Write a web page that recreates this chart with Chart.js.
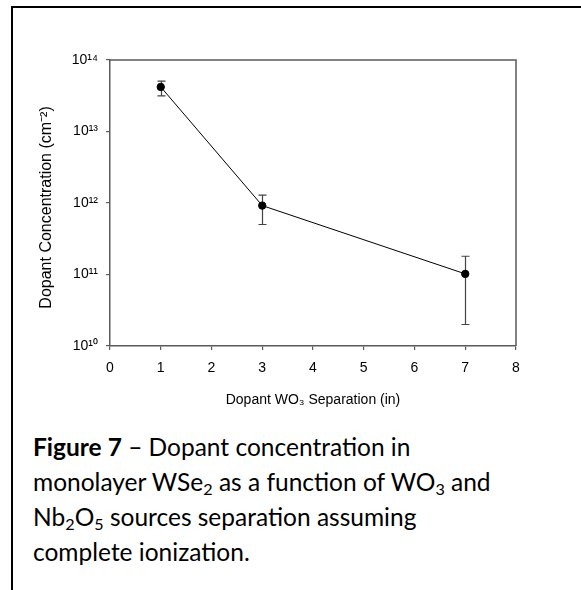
<!DOCTYPE html>
<html>
<head>
<meta charset="utf-8">
<script src="https://cdn.jsdelivr.net/npm/chart.js@4/dist/chart.umd.min.js"></script>
<style>
  html, body { margin: 0; padding: 0; background: #fff; }
  #wrap { position: relative; width: 581px; height: 590px; overflow: hidden; background: #fff; }
  #frame { position: absolute; left: 11px; top: 6px; width: 700px; height: 700px;
           border-left: 2px solid #000; border-top: 2px solid #000; }
  #chartBox { position: absolute; left: 0; top: 0; width: 581px; height: 420px; }
  #caption { position: absolute; left: 33px; top: 429px; width: 545px; white-space: nowrap;
             font-family: Lato, "Open Sans", sans-serif; font-size: 24.5px; line-height: 35px; color: #000; }
  #caption sub { font-size: 0.66em; vertical-align: -0.25em; line-height: 0; }
</style>
</head>
<body>
<div id="wrap">
  <div id="frame"></div>
  <div id="chartBox"><canvas id="c" width="581" height="420"></canvas></div>
  <div id="caption"><b>Figure 7</b> – Dopant concentration in<br>monolayer WSe<sub>2</sub> as a function of WO<sub>3</sub> and<br>Nb<sub>2</sub>O<sub>5</sub> sources separation assuming<br>complete ionization.</div>
</div>
<script>
// ---- data ----
const separations = [1, 3, 7];                       // in
const concentration = [4.2e13, 9.2e11, 1.02e11];      // cm^-2
const errUpper = [5.05e13, 1.29e12, 1.8e11];
const errLower = [3.15e13, 5.0e11, 2.0e10];
const xTickValues = [0, 1, 2, 3, 4, 5, 6, 7, 8];
const yTickValues = [1e10, 1e11, 1e12, 1e13, 1e14];
const yTickLabels = ['10¹⁰', '10¹¹', '10¹²', '10¹³', '10¹⁴'];
const xTitle = 'Dopant WO₃ Separation (in)';
const yTitle = 'Dopant Concentration (cm⁻²)  ';

const axisColor = '#5a5a5a';
const font = "'Liberation Sans', Arial, sans-serif";

const framePlugin = {
  id: 'framePlugin',
  afterDatasetsDraw(chart) {
    const {ctx, chartArea: a} = chart;
    ctx.save();
    ctx.strokeStyle = axisColor;
    ctx.lineWidth = 1.5;
    ctx.beginPath();
    ctx.moveTo(a.left, a.top);
    ctx.lineTo(a.right, a.top);
    ctx.lineTo(a.right, a.bottom);
    ctx.stroke();
    ctx.restore();
  }
};

const errorBarPlugin = {
  id: 'errorBarPlugin',
  beforeDatasetsDraw(chart) {
    const {ctx, scales: {x, y}} = chart;
    ctx.save();
    ctx.strokeStyle = '#444';
    ctx.lineWidth = 1.2;
    separations.forEach((sx, i) => {
      const px = Math.round(x.getPixelForValue(sx)) + 0.5;
      const pt = y.getPixelForValue(errUpper[i]);
      const pb = y.getPixelForValue(errLower[i]);
      ctx.beginPath();
      ctx.moveTo(px, pt); ctx.lineTo(px, pb);
      ctx.moveTo(px - 4, pt); ctx.lineTo(px + 4, pt);
      ctx.moveTo(px - 4, pb); ctx.lineTo(px + 4, pb);
      ctx.stroke();
    });
    ctx.restore();
  }
};

new Chart(document.getElementById('c'), {
  type: 'scatter',
  data: {
    datasets: [{
      data: separations.map((s, i) => ({x: s, y: concentration[i]})),
      showLine: true,
      borderColor: '#000',
      borderWidth: 1,
      backgroundColor: '#000',
      pointRadius: 3.7,
      pointHoverRadius: 3.7,
      tension: 0
    }]
  },
  plugins: [errorBarPlugin, framePlugin],
  options: {
    responsive: false,
    animation: false,
    events: [],
    layout: { padding: { left: 0, top: 60, right: 65, bottom: 0 } },
    plugins: { legend: { display: false }, tooltip: { enabled: false } },
    scales: {
      x: {
        type: 'linear',
        min: 0, max: 8,
        afterBuildTicks(scale) { scale.ticks = xTickValues.map(v => ({value: v})); },
        afterFit(scale) { scale.height = 74; },
        border: { display: true, color: axisColor, width: 1.5 },
        grid: { drawOnChartArea: false, drawTicks: true, tickLength: 4, color: axisColor, lineWidth: 1.2 },
        ticks: { color: '#000', font: { family: font, size: 14 }, padding: 10, maxRotation: 0,
                 callback: (v) => String(v) },
        title: { display: true, text: xTitle, color: '#000', font: { family: font, size: 14 },
                 padding: { top: 0, bottom: 11 } }
      },
      y: {
        type: 'logarithmic',
        min: 1e10, max: 1e14,
        afterBuildTicks(scale) { scale.ticks = yTickValues.map(v => ({value: v})); },
        afterFit(scale) { scale.width = 110; },
        border: { display: true, color: axisColor, width: 1.5 },
        grid: { drawOnChartArea: false, drawTicks: true, tickLength: 4, color: axisColor, lineWidth: 1.2 },
        ticks: { color: '#000', font: { family: font, size: 14 }, padding: 8,
                 callback: (v) => yTickLabels[yTickValues.indexOf(v)] ?? '' },
        title: { display: true, text: yTitle, color: '#000', font: { family: font, size: 16 },
                 padding: { top: 37, bottom: 0 } }
      }
    }
  }
});
</script>
</body>
</html>
